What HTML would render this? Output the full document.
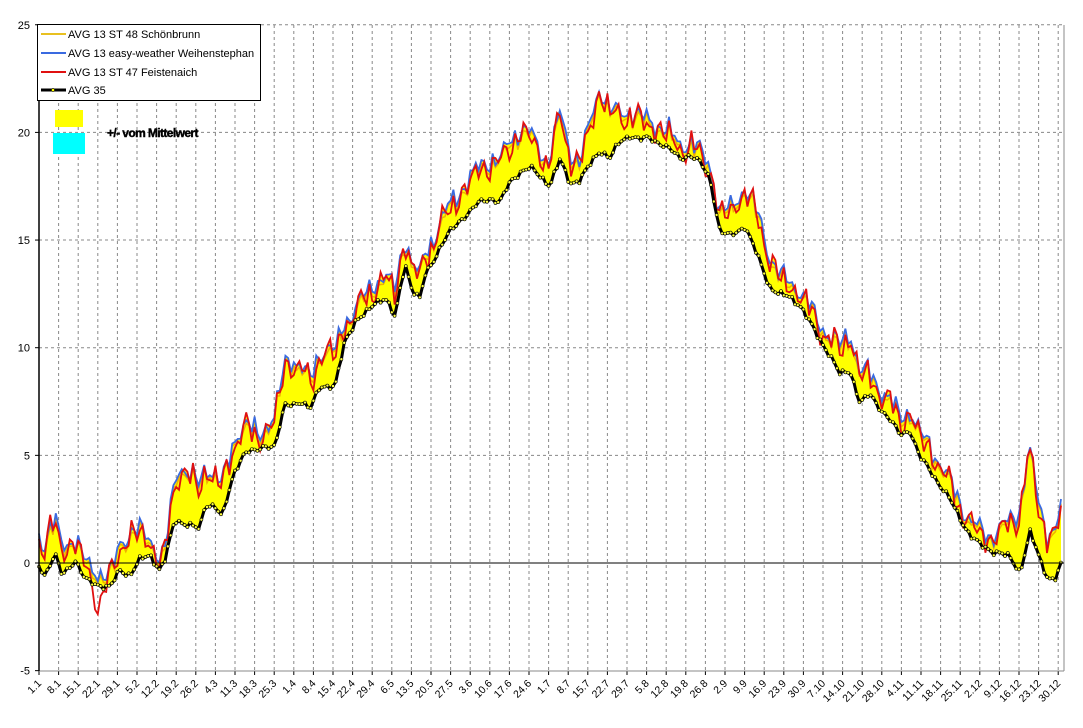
<!DOCTYPE html>
<html><head><meta charset="utf-8">
<style>
html,body{margin:0;padding:0;background:#fff;}
svg{display:block;font-family:"Liberation Sans",Arial,sans-serif;}
</style></head>
<body>
<svg id="c" width="1083" height="728" viewBox="0 0 1083 728" xmlns="http://www.w3.org/2000/svg">
<rect width="1083" height="728" fill="#fff"/>
<g id="grid"></g>
<g id="data"></g>
<g id="axes"></g>
<g id="leg">
<rect x="37.5" y="24.5" width="223" height="76" fill="#fff" stroke="#000" stroke-width="1"/>
<line x1="41" y1="34" x2="66" y2="34" stroke="#e8c020" stroke-width="2"/>
<text x="68" y="38" font-size="11">AVG 13 ST 48 Schönbrunn</text>
<line x1="41" y1="53" x2="66" y2="53" stroke="#3a6ae0" stroke-width="2"/>
<text x="68" y="57" font-size="11">AVG 13 easy-weather Weihenstephan</text>
<line x1="41" y1="72" x2="66" y2="72" stroke="#e01010" stroke-width="2"/>
<text x="68" y="76" font-size="11">AVG 13 ST 47 Feistenaich</text>
<line x1="41" y1="90" x2="66" y2="90" stroke="#000" stroke-width="3"/>
<circle cx="53" cy="90" r="1.6" fill="#ff0" stroke="#000" stroke-width="0.6"/>
<text x="68" y="94" font-size="11">AVG 35</text>
<rect x="55" y="110" width="28" height="17" fill="#ffff00"/>
<rect x="53" y="133" width="32" height="21" fill="#00ffff"/>
<text x="107" y="137" font-size="12" font-weight="bold" fill="#000" stroke="#000" stroke-width="0.4" letter-spacing="-0.6">+/- vom Mittelwert</text>
</g>
</svg>
<script>
(function(){
var NS="http://www.w3.org/2000/svg";
function el(p,t,a){var e=document.createElementNS(NS,t);for(var k in a)e.setAttribute(k,a[k]);p.appendChild(e);return e;}
var grid=document.getElementById('grid'),data=document.getElementById('data'),axes=document.getElementById('axes');
var X0=39,K=2.80,Y0=563,U=21.53,R=1064;
function xd(d){return X0+d*K;}
for(var v=-5;v<=25;v+=5){var y=Y0-v*U;
 if(v!==0&&v!==-5) el(grid,'line',{x1:X0,x2:R,y1:y,y2:y,stroke:'#888','stroke-dasharray':'3,3','stroke-width':1});
 var t=el(axes,'text',{x:30,y:y+4,'font-size':11,'text-anchor':'end'});t.textContent=v;
 el(axes,'line',{x1:X0-4,x2:X0,y1:y,y2:y,stroke:'#000'});
}
for(var k=0;k<=52;k++){var d=k*7;var x=xd(d);
 var dd=new Date(2012,0,1+d);
 if(k>0) el(grid,'line',{x1:x,x2:x,y1:25,y2:671,stroke:'#888','stroke-dasharray':'3,3','stroke-width':1});
 el(axes,'line',{x1:x,x2:x,y1:671,y2:675,stroke:'#000'});
 var t=el(axes,'text',{x:x+3,y:684,'font-size':10.5,'text-anchor':'end',transform:'rotate(-45 '+(x+3)+' 684)'});
 t.textContent=dd.getDate()+'.'+(dd.getMonth()+1);
}
el(grid,'line',{x1:R,x2:R,y1:25,y2:671,stroke:'#888','stroke-width':1});
el(axes,'line',{x1:X0,x2:R,y1:671,y2:671,stroke:'#888','stroke-width':1});
el(axes,'line',{x1:X0,x2:R,y1:Y0,y2:Y0,stroke:'#000','stroke-width':1});
el(axes,'line',{x1:X0,x2:X0,y1:25,y2:671,stroke:'#000','stroke-width':1.5});
var B=[[39,565],[45,575],[55,555],[62,575],[75,560],[85,580],[100,585],[110,588],[120,570],[130,575],[140,560],[150,555],[160,570],[165,560],[175,520],[190,525],[200,530],[205,505],[215,505],[222,518],[235,470],[245,452],[255,452],[265,445],[275,447],[285,405],[300,402],[310,410],[320,385],[335,388],[345,340],[355,322],[365,315],[375,302],[385,298],[395,318],[405,262],[412,290],[420,300],[425,275],[440,248],[450,232],[460,220],[470,212],[480,202],[490,198],[500,203],[510,182],[520,172],[530,168],[540,176],[550,185],[560,160],[570,183],[580,180],[590,165],[600,150],[610,158],[620,142],[630,135],[640,140],[650,138],[660,143],[670,150],[680,158],[690,155],[700,163],[710,178],[720,232],[730,236],[745,226],[760,262],[770,287],[780,295],[790,297],[800,305],[815,332],[830,355],[840,375],[850,370],[860,403],[870,395],[880,408],[890,420],[900,435],[910,430],[920,458],[930,470],[940,485],[950,500],[960,518],[970,535],[980,545],[990,550],[1000,553],[1010,558],[1020,572],[1030,532],[1040,560],[1048,578],[1056,578],[1063,560]];
var O=[[39,40],[50,50],[70,35],[90,20],[110,15],[130,60],[145,30],[165,12],[180,80],[200,60],[215,45],[240,45],[260,20],[290,65],[310,40],[330,55],[350,20],[380,30],[400,40],[430,30],[470,45],[490,55],[520,60],[545,30],[560,65],[580,25],[600,90],[620,40],[650,25],[680,20],[700,15],[720,25],[740,50],[760,60],[780,25],[800,20],[830,25],[850,55],[870,30],[900,25],[930,35],[950,25],[970,20],[990,20],[1010,50],[1028,120],[1038,75],[1048,60],[1063,80]];
function interp(keys,x){for(var i=0;i<keys.length-1;i++){if(x<=keys[i+1][0]){var a=keys[i],b=keys[i+1];var t=(x-a[0])/(b[0]-a[0]);return a[1]+t*(b[1]-a[1]);}}return keys[keys.length-1][1];}
function nz(i,s){return Math.sin(i*1.7+s)*2.2+Math.sin(i*0.63+s*2.1)*2.0+Math.sin(i*3.1+s*0.7)*1.2;}
var N=366,bl=[],bu=[],rd=[],yl=[],xs=[];
for(var i=0;i<N;i++){var x=xd(i);if(x>R)x=R;xs.push(x);
 var b=interp(B,x)+nz(i,0.3)*0.8;
 var o=Math.max(3,interp(O,x)*0.72+nz(i,1.9)*2.5+Math.sin(i*2.3)*3);
 bl.push(b);bu.push(b-o);
 var r=b-o+4+nz(i,4.2)*2.2+Math.sin(i*0.9+1)*3;
 if(x>88&&x<108) r+=25*Math.sin((x-88)/20*Math.PI);
 rd.push(Math.min(r,b+(x>88&&x<108?30:6)));
 yl.push(b-o+2+Math.abs(nz(i,2.7))*0.9);
}
function pts(a){return a.map(function(y,i){return xs[i].toFixed(1)+','+y.toFixed(1);}).join(' ');}
var top=bu.map(function(y,i){return Math.min(y,rd[i],bl[i]);});
var poly=pts(top)+' '+bl.map(function(y,i){return xs[i].toFixed(1)+','+y.toFixed(1);}).reverse().join(' ');
el(data,'polygon',{points:poly,fill:'#ffff00'});
el(data,'polyline',{points:pts(yl),fill:'none',stroke:'#f0b000','stroke-width':1.5});
el(data,'polyline',{points:pts(bu),fill:'none',stroke:'#3a6ae0','stroke-width':1.8});
el(data,'polyline',{points:pts(rd),fill:'none',stroke:'#e01010','stroke-width':1.8});
el(data,'polyline',{points:pts(bl),fill:'none',stroke:'#000','stroke-width':3,'stroke-linejoin':'round'});
for(var i=0;i<N;i++) el(data,'circle',{cx:xs[i],cy:bl[i],r:1.5,fill:'#ffff40',stroke:'#000','stroke-width':0.6});
})();
</script>
</body></html>
